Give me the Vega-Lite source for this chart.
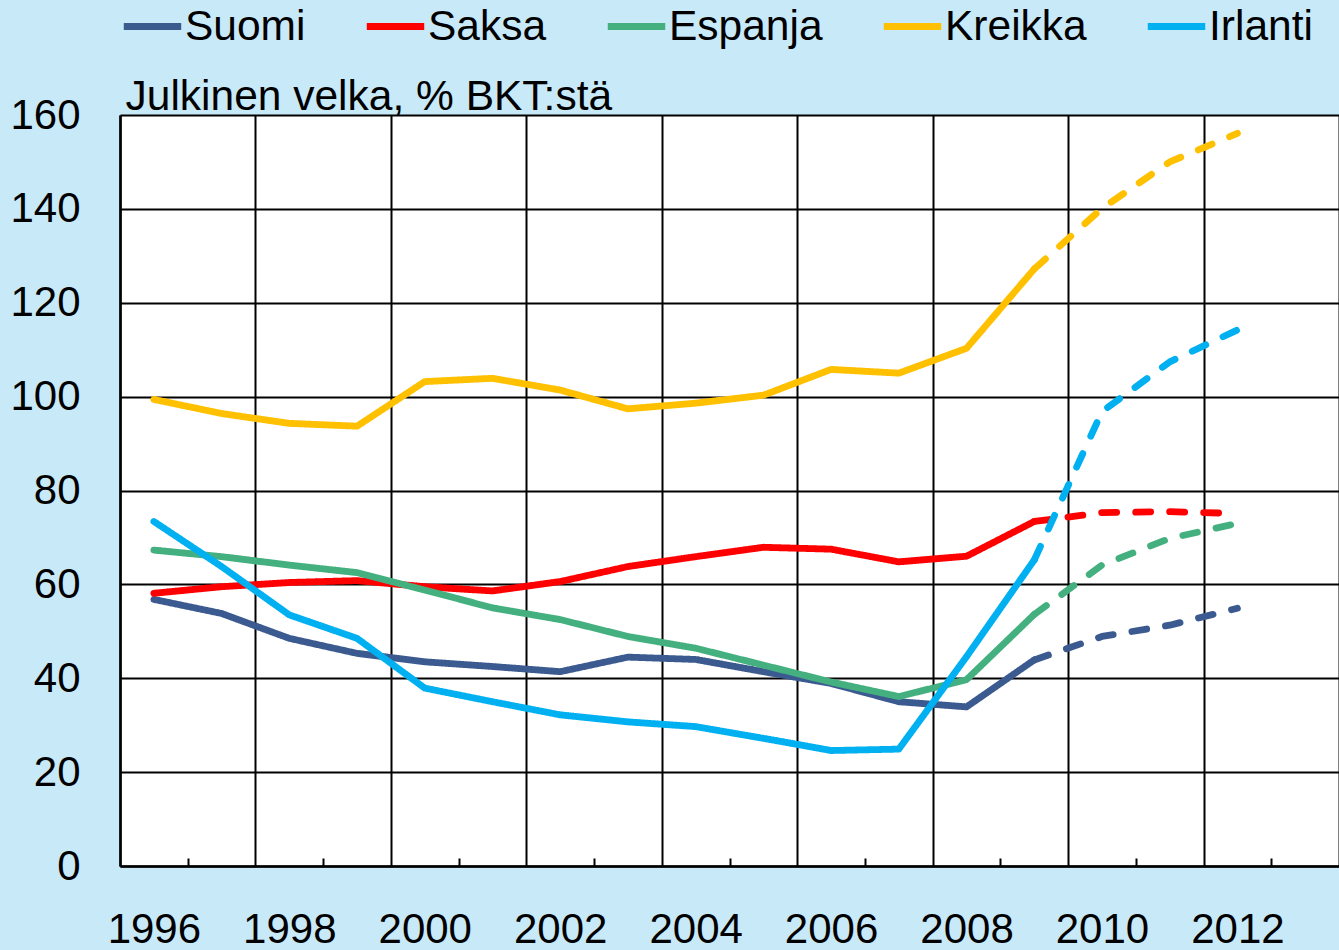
{
  "$schema": "https://vega.github.io/schema/vega-lite/v6.json",
  "width": 1219,
  "height": 751,
  "autosize": {"type": "none"},
  "padding": {"left": 120, "top": 115, "right": 0, "bottom": 84},
  "background": "#C8E9F8",
  "view": {"fill": "white", "stroke": null},
  "config": {
    "font": "Liberation Sans",
    "axis": {"labelFont": "Liberation Sans", "labelColor": "black", "titleFont": "Liberation Sans"},
    "legend": {"labelFont": "Liberation Sans"}
  },
  "data": {
    "values": [
      {"maa": "Suomi", "vuosi": 1996, "velka": 56.8, "jakso": "toteutunut"},
      {"maa": "Suomi", "vuosi": 1997, "velka": 53.8, "jakso": "toteutunut"},
      {"maa": "Suomi", "vuosi": 1998, "velka": 48.5, "jakso": "toteutunut"},
      {"maa": "Suomi", "vuosi": 1999, "velka": 45.3, "jakso": "toteutunut"},
      {"maa": "Suomi", "vuosi": 2000, "velka": 43.5, "jakso": "toteutunut"},
      {"maa": "Suomi", "vuosi": 2001, "velka": 42.5, "jakso": "toteutunut"},
      {"maa": "Suomi", "vuosi": 2002, "velka": 41.4, "jakso": "toteutunut"},
      {"maa": "Suomi", "vuosi": 2003, "velka": 44.5, "jakso": "toteutunut"},
      {"maa": "Suomi", "vuosi": 2004, "velka": 44.0, "jakso": "toteutunut"},
      {"maa": "Suomi", "vuosi": 2005, "velka": 41.4, "jakso": "toteutunut"},
      {"maa": "Suomi", "vuosi": 2006, "velka": 38.9, "jakso": "toteutunut"},
      {"maa": "Suomi", "vuosi": 2007, "velka": 35.0, "jakso": "toteutunut"},
      {"maa": "Suomi", "vuosi": 2008, "velka": 33.9, "jakso": "toteutunut"},
      {"maa": "Suomi", "vuosi": 2009, "velka": 43.9, "jakso": "toteutunut"},
      {"maa": "Suomi", "vuosi": 2009, "velka": 43.9, "jakso": "ennuste"},
      {"maa": "Suomi", "vuosi": 2010, "velka": 48.9, "jakso": "ennuste"},
      {"maa": "Suomi", "vuosi": 2011, "velka": 51.3, "jakso": "ennuste"},
      {"maa": "Suomi", "vuosi": 2012, "velka": 54.9, "jakso": "ennuste"},

      {"maa": "Saksa", "vuosi": 1996, "velka": 58.1, "jakso": "toteutunut"},
      {"maa": "Saksa", "vuosi": 1997, "velka": 59.5, "jakso": "toteutunut"},
      {"maa": "Saksa", "vuosi": 1998, "velka": 60.4, "jakso": "toteutunut"},
      {"maa": "Saksa", "vuosi": 1999, "velka": 60.8, "jakso": "toteutunut"},
      {"maa": "Saksa", "vuosi": 2000, "velka": 59.5, "jakso": "toteutunut"},
      {"maa": "Saksa", "vuosi": 2001, "velka": 58.6, "jakso": "toteutunut"},
      {"maa": "Saksa", "vuosi": 2002, "velka": 60.6, "jakso": "toteutunut"},
      {"maa": "Saksa", "vuosi": 2003, "velka": 63.8, "jakso": "toteutunut"},
      {"maa": "Saksa", "vuosi": 2004, "velka": 65.9, "jakso": "toteutunut"},
      {"maa": "Saksa", "vuosi": 2005, "velka": 67.9, "jakso": "toteutunut"},
      {"maa": "Saksa", "vuosi": 2006, "velka": 67.5, "jakso": "toteutunut"},
      {"maa": "Saksa", "vuosi": 2007, "velka": 64.8, "jakso": "toteutunut"},
      {"maa": "Saksa", "vuosi": 2008, "velka": 66.0, "jakso": "toteutunut"},
      {"maa": "Saksa", "vuosi": 2009, "velka": 73.4, "jakso": "toteutunut"},
      {"maa": "Saksa", "vuosi": 2009, "velka": 73.4, "jakso": "ennuste"},
      {"maa": "Saksa", "vuosi": 2010, "velka": 75.3, "jakso": "ennuste"},
      {"maa": "Saksa", "vuosi": 2011, "velka": 75.5, "jakso": "ennuste"},
      {"maa": "Saksa", "vuosi": 2012, "velka": 75.1, "jakso": "ennuste"},

      {"maa": "Espanja", "vuosi": 1996, "velka": 67.3, "jakso": "toteutunut"},
      {"maa": "Espanja", "vuosi": 1997, "velka": 65.9, "jakso": "toteutunut"},
      {"maa": "Espanja", "vuosi": 1998, "velka": 64.1, "jakso": "toteutunut"},
      {"maa": "Espanja", "vuosi": 1999, "velka": 62.5, "jakso": "toteutunut"},
      {"maa": "Espanja", "vuosi": 2000, "velka": 58.8, "jakso": "toteutunut"},
      {"maa": "Espanja", "vuosi": 2001, "velka": 55.0, "jakso": "toteutunut"},
      {"maa": "Espanja", "vuosi": 2002, "velka": 52.5, "jakso": "toteutunut"},
      {"maa": "Espanja", "vuosi": 2003, "velka": 48.9, "jakso": "toteutunut"},
      {"maa": "Espanja", "vuosi": 2004, "velka": 46.4, "jakso": "toteutunut"},
      {"maa": "Espanja", "vuosi": 2005, "velka": 42.8, "jakso": "toteutunut"},
      {"maa": "Espanja", "vuosi": 2006, "velka": 39.2, "jakso": "toteutunut"},
      {"maa": "Espanja", "vuosi": 2007, "velka": 36.1, "jakso": "toteutunut"},
      {"maa": "Espanja", "vuosi": 2008, "velka": 39.7, "jakso": "toteutunut"},
      {"maa": "Espanja", "vuosi": 2009, "velka": 53.6, "jakso": "toteutunut"},
      {"maa": "Espanja", "vuosi": 2009, "velka": 53.6, "jakso": "ennuste"},
      {"maa": "Espanja", "vuosi": 2010, "velka": 64.1, "jakso": "ennuste"},
      {"maa": "Espanja", "vuosi": 2011, "velka": 69.8, "jakso": "ennuste"},
      {"maa": "Espanja", "vuosi": 2012, "velka": 73.0, "jakso": "ennuste"},

      {"maa": "Kreikka", "vuosi": 1996, "velka": 99.4, "jakso": "toteutunut"},
      {"maa": "Kreikka", "vuosi": 1997, "velka": 96.4, "jakso": "toteutunut"},
      {"maa": "Kreikka", "vuosi": 1998, "velka": 94.3, "jakso": "toteutunut"},
      {"maa": "Kreikka", "vuosi": 1999, "velka": 93.7, "jakso": "toteutunut"},
      {"maa": "Kreikka", "vuosi": 2000, "velka": 103.2, "jakso": "toteutunut"},
      {"maa": "Kreikka", "vuosi": 2001, "velka": 103.9, "jakso": "toteutunut"},
      {"maa": "Kreikka", "vuosi": 2002, "velka": 101.4, "jakso": "toteutunut"},
      {"maa": "Kreikka", "vuosi": 2003, "velka": 97.4, "jakso": "toteutunut"},
      {"maa": "Kreikka", "vuosi": 2004, "velka": 98.6, "jakso": "toteutunut"},
      {"maa": "Kreikka", "vuosi": 2005, "velka": 100.3, "jakso": "toteutunut"},
      {"maa": "Kreikka", "vuosi": 2006, "velka": 105.8, "jakso": "toteutunut"},
      {"maa": "Kreikka", "vuosi": 2007, "velka": 105.0, "jakso": "toteutunut"},
      {"maa": "Kreikka", "vuosi": 2008, "velka": 110.3, "jakso": "toteutunut"},
      {"maa": "Kreikka", "vuosi": 2009, "velka": 127.2, "jakso": "toteutunut"},
      {"maa": "Kreikka", "vuosi": 2009, "velka": 127.2, "jakso": "ennuste"},
      {"maa": "Kreikka", "vuosi": 2010, "velka": 140.1, "jakso": "ennuste"},
      {"maa": "Kreikka", "vuosi": 2011, "velka": 150.0, "jakso": "ennuste"},
      {"maa": "Kreikka", "vuosi": 2012, "velka": 156.1, "jakso": "ennuste"},

      {"maa": "Irlanti", "vuosi": 1996, "velka": 73.4, "jakso": "toteutunut"},
      {"maa": "Irlanti", "vuosi": 1997, "velka": 63.8, "jakso": "toteutunut"},
      {"maa": "Irlanti", "vuosi": 1998, "velka": 53.5, "jakso": "toteutunut"},
      {"maa": "Irlanti", "vuosi": 1999, "velka": 48.5, "jakso": "toteutunut"},
      {"maa": "Irlanti", "vuosi": 2000, "velka": 37.9, "jakso": "toteutunut"},
      {"maa": "Irlanti", "vuosi": 2001, "velka": 35.0, "jakso": "toteutunut"},
      {"maa": "Irlanti", "vuosi": 2002, "velka": 32.2, "jakso": "toteutunut"},
      {"maa": "Irlanti", "vuosi": 2003, "velka": 30.7, "jakso": "toteutunut"},
      {"maa": "Irlanti", "vuosi": 2004, "velka": 29.7, "jakso": "toteutunut"},
      {"maa": "Irlanti", "vuosi": 2005, "velka": 27.2, "jakso": "toteutunut"},
      {"maa": "Irlanti", "vuosi": 2006, "velka": 24.6, "jakso": "toteutunut"},
      {"maa": "Irlanti", "vuosi": 2007, "velka": 24.9, "jakso": "toteutunut"},
      {"maa": "Irlanti", "vuosi": 2008, "velka": 44.6, "jakso": "toteutunut"},
      {"maa": "Irlanti", "vuosi": 2009, "velka": 65.2, "jakso": "toteutunut"},
      {"maa": "Irlanti", "vuosi": 2009, "velka": 65.2, "jakso": "ennuste"},
      {"maa": "Irlanti", "vuosi": 2010, "velka": 96.8, "jakso": "ennuste"},
      {"maa": "Irlanti", "vuosi": 2011, "velka": 107.4, "jakso": "ennuste"},
      {"maa": "Irlanti", "vuosi": 2012, "velka": 114.2, "jakso": "ennuste"}
    ]
  },
  "resolve": {"axis": {"x": "independent"}},
  "layer": [
    {
      "mark": {"type": "line", "opacity": 0},
      "encoding": {
        "x": {
          "field": "vuosi",
          "type": "quantitative",
          "scale": {"domain": [1995.5, 2013.5], "nice": false, "zero": false},
          "axis": {
            "orient": "bottom",
            "values": [1995.5, 1997.5, 1999.5, 2001.5, 2003.5, 2005.5, 2007.5, 2009.5, 2011.5, 2013.5],
            "grid": true,
            "gridColor": "black",
            "gridWidth": 2,
            "gridOpacity": 1,
            "labels": false,
            "ticks": false,
            "domain": false,
            "title": null
          }
        },
        "y": {"field": "velka", "type": "quantitative"},
        "detail": {"field": "maa"}
      }
    },
    {
      "mark": {"type": "line", "opacity": 0},
      "encoding": {
        "x": {
          "field": "vuosi",
          "type": "quantitative",
          "axis": {
            "orient": "bottom",
            "values": [1996.5, 1998.5, 2000.5, 2002.5, 2004.5, 2006.5, 2008.5, 2010.5, 2012.5],
            "grid": false,
            "labels": false,
            "ticks": true,
            "tickSize": -8,
            "tickColor": "black",
            "tickWidth": 2,
            "domain": false,
            "title": null
          }
        },
        "y": {"field": "velka", "type": "quantitative"},
        "detail": {"field": "maa"}
      }
    },
    {
      "mark": {"type": "line", "strokeWidth": 6.8, "strokeCap": "round", "strokeJoin": "round"},
      "encoding": {
        "x": {
          "field": "vuosi",
          "type": "quantitative",
          "axis": {
            "orient": "bottom",
            "values": [1996, 1998, 2000, 2002, 2004, 2006, 2008, 2010, 2012],
            "format": "d",
            "grid": false,
            "ticks": false,
            "domain": true,
            "domainColor": "black",
            "domainWidth": 2.5,
            "labelFontSize": 42,
            "labelPadding": 43,
            "labelColor": "black",
            "title": null
          }
        },
        "y": {
          "field": "velka",
          "type": "quantitative",
          "scale": {"domain": [0, 160], "nice": false},
          "axis": {
            "values": [0, 20, 40, 60, 80, 100, 120, 140, 160],
            "grid": true,
            "gridColor": "black",
            "gridWidth": 2,
            "gridOpacity": 1,
            "ticks": false,
            "domain": true,
            "domainColor": "black",
            "domainWidth": 2.5,
            "labelFontSize": 42,
            "labelPadding": 40,
            "labelColor": "black",
            "title": "Julkinen velka, % BKT:stä",
            "titleAngle": 0,
            "titleX": 5,
            "titleY": -6,
            "titleAlign": "left",
            "titleBaseline": "alphabetic",
            "titleFontSize": 42.5,
            "titleFontWeight": "normal",
            "titleColor": "black"
          }
        },
        "color": {
          "field": "maa",
          "type": "nominal",
          "scale": {
            "domain": ["Suomi", "Saksa", "Espanja", "Kreikka", "Irlanti"],
            "range": ["#3B5A8F", "#FF0000", "#45B07F", "#FFC000", "#00B0F0"]
          },
          "legend": {
            "orient": "none",
            "legendX": 0,
            "legendY": -121,
            "direction": "horizontal",
            "title": null,
            "padding": 0,
            "symbolType": "stroke",
            "symbolSize": 3300,
            "symbolStrokeWidth": 7,
            "labelFontSize": 42.5,
            "labelColor": "black",
            "labelOffset": 0,
            "columnPadding": 46
          }
        },
        "strokeDash": {
          "field": "jakso",
          "type": "nominal",
          "scale": {"domain": ["toteutunut", "ennuste"], "range": [[1, 0], [15, 19]]},
          "legend": null
        }
      }
    }
  ]
}
